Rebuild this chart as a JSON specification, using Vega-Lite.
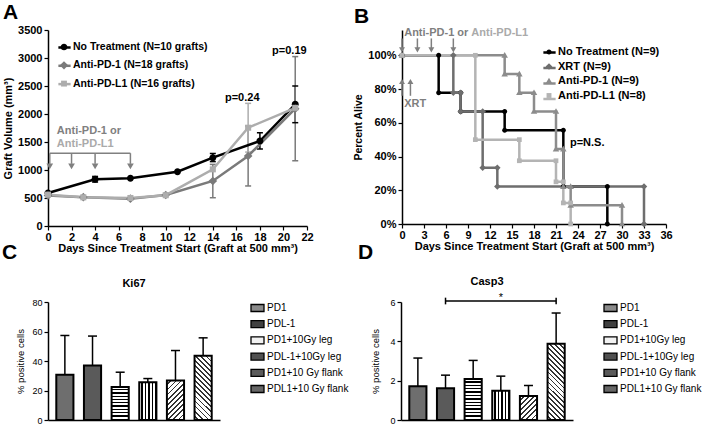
{
"$schema": "https://vega.github.io/schema/vega-lite/v6.json",
"padding": {"left": 2, "top": 2, "right": 2, "bottom": 2},
"spacing": -12,
"config": {
  "font": "Liberation Sans",
  "view": {"stroke": null},
  "axis": {"grid": false, "labelOverlap": false, "domainColor": "#000", "tickColor": "#000", "labelColor": "#000", "titleColor": "#000", "domainWidth": 1.5, "tickWidth": 1.2, "labelFont": "Liberation Sans", "titleFont": "Liberation Sans"},
  "title": {"font": "Liberation Sans", "color": "#000"},
  "legend": {"labelFont": "Liberation Sans", "labelColor": "#000"}
},
"datasets": {
  "volA": [
    {"g":"No Treatment (N=10 grafts)","d":0,"v":590},
    {"g":"No Treatment (N=10 grafts)","d":4,"v":834},
    {"g":"No Treatment (N=10 grafts)","d":7,"v":851},
    {"g":"No Treatment (N=10 grafts)","d":11,"v":970},
    {"g":"No Treatment (N=10 grafts)","d":14,"v":1220},
    {"g":"No Treatment (N=10 grafts)","d":18,"v":1518},
    {"g":"No Treatment (N=10 grafts)","d":21,"v":2173},
    {"g":"Anti-PD-1 (N=18 grafts)","d":0,"v":545},
    {"g":"Anti-PD-1 (N=18 grafts)","d":3,"v":515},
    {"g":"Anti-PD-1 (N=18 grafts)","d":7,"v":488},
    {"g":"Anti-PD-1 (N=18 grafts)","d":10,"v":553},
    {"g":"Anti-PD-1 (N=18 grafts)","d":14,"v":804},
    {"g":"Anti-PD-1 (N=18 grafts)","d":17,"v":1250},
    {"g":"Anti-PD-1 (N=18 grafts)","d":21,"v":2095},
    {"g":"Anti-PD-L1 (N=16 grafts)","d":0,"v":560},
    {"g":"Anti-PD-L1 (N=16 grafts)","d":3,"v":512},
    {"g":"Anti-PD-L1 (N=16 grafts)","d":7,"v":500},
    {"g":"Anti-PD-L1 (N=16 grafts)","d":10,"v":550},
    {"g":"Anti-PD-L1 (N=16 grafts)","d":14,"v":1012},
    {"g":"Anti-PD-L1 (N=16 grafts)","d":17,"v":1755},
    {"g":"Anti-PD-L1 (N=16 grafts)","d":21,"v":2110}
  ],
  "errA": [
    {"g":"No Treatment (N=10 grafts)","d":4,"lo":785,"hi":885},
    {"g":"No Treatment (N=10 grafts)","d":14,"lo":1150,"hi":1295},
    {"g":"No Treatment (N=10 grafts)","d":18,"lo":1375,"hi":1665},
    {"g":"No Treatment (N=10 grafts)","d":21,"lo":1845,"hi":2500},
    {"g":"Anti-PD-1 (N=18 grafts)","d":14,"lo":505,"hi":1100},
    {"g":"Anti-PD-1 (N=18 grafts)","d":17,"lo":715,"hi":1785},
    {"g":"Anti-PD-1 (N=18 grafts)","d":21,"lo":1165,"hi":3025},
    {"g":"Anti-PD-L1 (N=16 grafts)","d":17,"lo":1320,"hi":2190}
  ],
  "survB": [
    {"g":"No Treatment (N=9)","i":1,"d":0,"s":1},
    {"g":"No Treatment (N=9)","i":2,"d":5,"s":1},
    {"g":"No Treatment (N=9)","i":3,"d":5,"s":0.778},
    {"g":"No Treatment (N=9)","i":4,"d":8,"s":0.778},
    {"g":"No Treatment (N=9)","i":5,"d":8,"s":0.667},
    {"g":"No Treatment (N=9)","i":6,"d":14,"s":0.667},
    {"g":"No Treatment (N=9)","i":7,"d":14,"s":0.556},
    {"g":"No Treatment (N=9)","i":8,"d":22,"s":0.556},
    {"g":"No Treatment (N=9)","i":9,"d":22,"s":0.222},
    {"g":"No Treatment (N=9)","i":10,"d":28,"s":0.222},
    {"g":"No Treatment (N=9)","i":11,"d":28,"s":0},
    {"g":"XRT (N=9)","i":12,"d":0,"s":1},
    {"g":"XRT (N=9)","i":13,"d":7,"s":1},
    {"g":"XRT (N=9)","i":14,"d":7,"s":0.778},
    {"g":"XRT (N=9)","i":15,"d":8,"s":0.778},
    {"g":"XRT (N=9)","i":16,"d":8,"s":0.667},
    {"g":"XRT (N=9)","i":17,"d":11,"s":0.667},
    {"g":"XRT (N=9)","i":18,"d":11,"s":0.333},
    {"g":"XRT (N=9)","i":19,"d":13,"s":0.333},
    {"g":"XRT (N=9)","i":20,"d":13,"s":0.222},
    {"g":"XRT (N=9)","i":21,"d":33,"s":0.222},
    {"g":"XRT (N=9)","i":22,"d":33,"s":0},
    {"g":"Anti-PD-1 (N=9)","i":23,"d":0,"s":1},
    {"g":"Anti-PD-1 (N=9)","i":24,"d":14,"s":1},
    {"g":"Anti-PD-1 (N=9)","i":25,"d":14,"s":0.889},
    {"g":"Anti-PD-1 (N=9)","i":26,"d":16,"s":0.889},
    {"g":"Anti-PD-1 (N=9)","i":27,"d":16,"s":0.778},
    {"g":"Anti-PD-1 (N=9)","i":28,"d":18,"s":0.778},
    {"g":"Anti-PD-1 (N=9)","i":29,"d":18,"s":0.667},
    {"g":"Anti-PD-1 (N=9)","i":30,"d":21,"s":0.667},
    {"g":"Anti-PD-1 (N=9)","i":31,"d":21,"s":0.444},
    {"g":"Anti-PD-1 (N=9)","i":32,"d":22,"s":0.444},
    {"g":"Anti-PD-1 (N=9)","i":33,"d":22,"s":0.222},
    {"g":"Anti-PD-1 (N=9)","i":34,"d":23,"s":0.222},
    {"g":"Anti-PD-1 (N=9)","i":35,"d":23,"s":0.111},
    {"g":"Anti-PD-1 (N=9)","i":36,"d":30,"s":0.111},
    {"g":"Anti-PD-1 (N=9)","i":37,"d":30,"s":0},
    {"g":"Anti-PD-L1 (N=8)","i":38,"d":0,"s":1},
    {"g":"Anti-PD-L1 (N=8)","i":39,"d":10,"s":1},
    {"g":"Anti-PD-L1 (N=8)","i":40,"d":10,"s":0.5},
    {"g":"Anti-PD-L1 (N=8)","i":41,"d":16,"s":0.5},
    {"g":"Anti-PD-L1 (N=8)","i":42,"d":16,"s":0.375},
    {"g":"Anti-PD-L1 (N=8)","i":43,"d":21,"s":0.375},
    {"g":"Anti-PD-L1 (N=8)","i":44,"d":21,"s":0.25},
    {"g":"Anti-PD-L1 (N=8)","i":45,"d":22,"s":0.25},
    {"g":"Anti-PD-L1 (N=8)","i":46,"d":22,"s":0.125},
    {"g":"Anti-PD-L1 (N=8)","i":47,"d":23,"s":0.125},
    {"g":"Anti-PD-L1 (N=8)","i":48,"d":23,"s":0}
  ],
  "ki": [
    {"g":"PD1","v":30.6,"hi":57.3},
    {"g":"PDL-1","v":36.9,"hi":56.9},
    {"g":"PD1+10Gy leg","v":22.4,"hi":32.4},
    {"g":"PDL-1+10Gy leg","v":25.6,"hi":28.1},
    {"g":"PD1+10 Gy flank","v":26.7,"hi":47.1},
    {"g":"PDL1+10 Gy flank","v":43.5,"hi":55.7}
  ],
  "casp": [
    {"g":"PD1","v":1.71,"hi":3.15},
    {"g":"PDL-1","v":1.62,"hi":2.28},
    {"g":"PD1+10Gy leg","v":2.08,"hi":3.03},
    {"g":"PDL-1+10Gy leg","v":1.49,"hi":2.23},
    {"g":"PD1+10 Gy flank","v":1.22,"hi":1.76},
    {"g":"PDL1+10 Gy flank","v":3.88,"hi":5.44}
  ],
  "leg": [
    {"g":"PD1"},{"g":"PDL-1"},{"g":"PD1+10Gy leg"},{"g":"PDL-1+10Gy leg"},{"g":"PD1+10 Gy flank"},{"g":"PDL1+10 Gy flank"}
  ]
},
"vconcat": [
 {
  "spacing": 39,
  "resolve": {"scale": {"color": "independent", "shape": "independent"}, "legend": {"color": "independent", "shape": "independent"}},
  "hconcat": [
   {
    "width": 259, "height": 196,
    "title": {"text": "A", "fontSize": 21, "fontWeight": "bold", "anchor": "start", "frame": "group", "dx": -45, "offset": 1},
    "resolve": {"legend": {"color": "independent", "shape": "independent"}},
    "layer": [
     {
      "data": {"name": "errA"},
      "mark": {"type": "rule", "strokeWidth": 1.5},
      "encoding": {
        "x": {"field": "d", "type": "quantitative", "scale": {"domain": [0, 22], "nice": false}, "axis": {"values": [0,2,4,6,8,10,12,14,16,18,20,22], "tickCount": 50, "format": "d", "labelOverlap": false, "title": "Days Since Treatment Start (Graft at 500 mm³)", "labelFontWeight": "bold", "labelFontSize": 11, "titleFontWeight": "bold", "titleFontSize": 11, "titlePadding": 0, "labelPadding": 1, "tickSize": 4, "labelFlush": false}},
        "y": {"field": "lo", "type": "quantitative", "scale": {"domain": [0, 3500], "nice": false}, "axis": {"values": [0,500,1000,1500,2000,2500,3000,3500], "tickCount": 50, "labelOverlap": false, "format": "d", "title": "Graft Volume (mm³)", "labelFontWeight": "bold", "labelFontSize": 11, "titleFontWeight": "bold", "titleFontSize": 11, "titlePadding": 4, "labelPadding": 2, "tickSize": 4}},
        "y2": {"field": "hi"},
        "color": {"field": "g", "type": "nominal", "scale": {"domain": ["No Treatment (N=10 grafts)", "Anti-PD-1 (N=18 grafts)", "Anti-PD-L1 (N=16 grafts)"], "range": ["#000000", "#7a7a7a", "#adadad"]}, "legend": null}
      }
     },
     {
      "data": {"name": "errA"},
      "mark": {"type": "tick", "orient": "horizontal", "size": 6, "thickness": 1.5, "opacity": 1},
      "encoding": {"x": {"field": "d", "type": "quantitative"}, "y": {"field": "lo", "type": "quantitative"}, "color": {"field": "g", "type": "nominal", "legend": null}}
     },
     {
      "data": {"name": "errA"},
      "mark": {"type": "tick", "orient": "horizontal", "size": 6, "thickness": 1.5, "opacity": 1},
      "encoding": {"x": {"field": "d", "type": "quantitative"}, "y": {"field": "hi", "type": "quantitative"}, "color": {"field": "g", "type": "nominal", "legend": null}}
     },
     {
      "data": {"name": "volA"},
      "mark": {"type": "line", "strokeWidth": 2.5},
      "encoding": {"x": {"field": "d", "type": "quantitative"}, "y": {"field": "v", "type": "quantitative"},
        "color": {"field": "g", "type": "nominal", "legend": {"orient": "none", "legendX": 9, "legendY": 10, "title": null, "padding": 0, "labelFontSize": 10.5, "labelFontWeight": "bold", "labelExpr": "''", "symbolType": "stroke", "symbolStrokeWidth": 2.5, "symbolSize": 150, "rowPadding": 5.3, "labelOffset": 2}}}
     },
     {
      "data": {"name": "volA"},
      "mark": {"type": "point", "filled": true, "size": 160, "opacity": 1},
      "encoding": {
        "x": {"field": "d", "type": "quantitative"},
        "y": {"field": "v", "type": "quantitative"},
        "shape": {"field": "g", "type": "nominal", "scale": {"domain": ["No Treatment (N=10 grafts)", "Anti-PD-1 (N=18 grafts)", "Anti-PD-L1 (N=16 grafts)"], "range": ["M0.55,0A0.55,0.55,0,1,1,-0.55,0A0.55,0.55,0,1,1,0.55,0Z", "M0,-0.68L0.68,0L0,0.68L-0.68,0Z", "M-0.48,-0.48H0.48V0.48H-0.48Z"]},
          "legend": {"orient": "none", "legendX": 9, "legendY": 10, "title": null, "padding": 0, "labelFontSize": 10.5, "labelFontWeight": "bold", "symbolSize": 150, "rowPadding": 5.3, "labelOffset": 2}},
        "color": {"field": "g", "type": "nominal", "legend": {"orient": "none", "legendX": 9, "legendY": 10, "title": null, "padding": 0, "labelFontSize": 10.5, "labelFontWeight": "bold", "symbolSize": 150, "rowPadding": 5.3, "labelOffset": 2}}
      }
     },
     {
      "data": {"values": [{"d":0.15,"d2":7,"v":1300,"v2":1300},{"d":0.15,"d2":0.15,"v":1300,"v2":1110},{"d":2,"d2":2,"v":1300,"v2":1110},{"d":4,"d2":4,"v":1300,"v2":1110},{"d":7,"d2":7,"v":1300,"v2":1110}]},
      "mark": {"type": "rule", "color": "#808080", "strokeWidth": 1.5},
      "encoding": {"x": {"field": "d", "type": "quantitative"}, "x2": {"field": "d2"}, "y": {"field": "v", "type": "quantitative"}, "y2": {"field": "v2"}}
     },
     {
      "data": {"values": [{"d":0.15,"v":1065},{"d":2,"v":1065},{"d":4,"v":1065},{"d":7,"v":1065}]},
      "mark": {"type": "point", "shape": "triangle-down", "filled": true, "size": 45, "color": "#808080", "opacity": 1},
      "encoding": {"x": {"field": "d", "type": "quantitative"}, "y": {"field": "v", "type": "quantitative"}}
     },
     {
      "data": {"values": [{"d":0.75,"v":1700,"t":"Anti-PD-1 or"}]},
      "mark": {"type": "text", "align": "left", "baseline": "middle", "fontSize": 11, "fontWeight": "bold", "color": "#808080"},
      "encoding": {"x": {"field": "d", "type": "quantitative"}, "y": {"field": "v", "type": "quantitative"}, "text": {"field": "t"}}
     },
     {
      "data": {"values": [{"d":0.75,"v":1465,"t":"Anti-PD-L1"}]},
      "mark": {"type": "text", "align": "left", "baseline": "middle", "fontSize": 11, "fontWeight": "bold", "color": "#aaaaaa"},
      "encoding": {"x": {"field": "d", "type": "quantitative"}, "y": {"field": "v", "type": "quantitative"}, "text": {"field": "t"}}
     },
     {
      "data": {"values": [{"d":16.5,"v":2290,"t":"p=0.24"},{"d":20.5,"v":3125,"t":"p=0.19"}]},
      "mark": {"type": "text", "align": "center", "baseline": "middle", "fontSize": 11, "fontWeight": "bold", "color": "#000"},
      "encoding": {"x": {"field": "d", "type": "quantitative"}, "y": {"field": "v", "type": "quantitative"}, "text": {"field": "t"}}
     }
    ]
   },
   {
    "width": 264, "height": 194,
    "title": {"text": "B", "fontSize": 21, "fontWeight": "bold", "anchor": "start", "frame": "group", "dx": -48, "offset": 0},
    "resolve": {"legend": {"color": "independent", "shape": "independent"}},
    "layer": [
     {
      "data": {"name": "survB"},
      "mark": {"type": "line", "strokeWidth": 2.5},
      "encoding": {
        "x": {"field": "d", "type": "quantitative", "scale": {"domain": [0, 36], "nice": false}, "axis": {"values": [0,3,6,9,12,15,18,21,24,27,30,33,36], "tickCount": 50, "format": "d", "labelOverlap": false, "title": "Days Since Treatment Start (Graft at 500 mm³)", "labelFontWeight": "bold", "labelFontSize": 11, "titleFontWeight": "bold", "titleFontSize": 11, "titlePadding": 0, "labelPadding": 1, "tickSize": 4, "labelFlush": false}},
        "y": {"field": "s", "type": "quantitative", "scale": {"domain": [0, 1.15], "nice": false}, "axis": {"values": [0,0.2,0.4,0.6,0.8,1], "tickCount": 50, "labelOverlap": false, "format": ".0%", "title": "Percent Alive", "labelFontWeight": "bold", "labelFontSize": 11, "titleFontWeight": "bold", "titleFontSize": 10.5, "titlePadding": 4, "labelPadding": 2, "tickSize": 4}},
        "color": {"field": "g", "type": "nominal", "scale": {"domain": ["No Treatment (N=9)", "XRT (N=9)", "Anti-PD-1 (N=9)", "Anti-PD-L1 (N=8)"], "range": ["#000000", "#6e6e6e", "#8c8c8c", "#b4b4b4"]},
          "legend": {"orient": "none", "legendX": 140, "legendY": 15, "title": null, "padding": 0, "labelFontSize": 11, "labelFontWeight": "bold", "labelExpr": "''", "symbolType": "stroke", "symbolStrokeWidth": 2.5, "symbolSize": 150, "rowPadding": 2.5, "labelOffset": 2}},
        "order": {"field": "i", "type": "quantitative"}
      }
     },
     {
      "data": {"name": "survB"},
      "mark": {"type": "point", "filled": true, "size": 140, "opacity": 1},
      "encoding": {
        "x": {"field": "d", "type": "quantitative"},
        "y": {"field": "s", "type": "quantitative"},
        "shape": {"field": "g", "type": "nominal", "scale": {"domain": ["No Treatment (N=9)", "XRT (N=9)", "Anti-PD-1 (N=9)", "Anti-PD-L1 (N=8)"], "range": ["M0.42,0A0.42,0.42,0,1,1,-0.42,0A0.42,0.42,0,1,1,0.42,0Z", "M0,-0.55L0.55,0L0,0.55L-0.55,0Z", "M0,-0.55L0.55,0.4L-0.55,0.4Z", "M-0.4,-0.4H0.4V0.4H-0.4Z"]},
          "legend": {"orient": "none", "legendX": 140, "legendY": 15, "title": null, "padding": 0, "labelFontSize": 11, "labelFontWeight": "bold", "symbolSize": 150, "rowPadding": 2.5, "labelOffset": 2}},
        "color": {"field": "g", "type": "nominal", "legend": {"orient": "none", "legendX": 140, "legendY": 15, "title": null, "padding": 0, "labelFontSize": 11, "labelFontWeight": "bold", "symbolSize": 150, "rowPadding": 2.5, "labelOffset": 2}}
      }
     },
     {
      "data": {"values": [{"d":0,"s":1.10,"s2":1.03},{"d":2.1,"s":1.10,"s2":1.03},{"d":4,"s":1.10,"s2":1.03},{"d":7,"s":1.10,"s2":1.03},{"d":0,"s":0.76,"s2":0.84},{"d":1.15,"s":0.76,"s2":0.84}]},
      "mark": {"type": "rule", "color": "#7f7f7f", "strokeWidth": 1.5},
      "encoding": {"x": {"field": "d", "type": "quantitative"}, "y": {"field": "s", "type": "quantitative"}, "y2": {"field": "s2"}}
     },
     {
      "data": {"values": [{"d":0,"s":1.032},{"d":2.1,"s":1.032},{"d":4,"s":1.032},{"d":7,"s":1.032}]},
      "mark": {"type": "point", "shape": "triangle-down", "filled": true, "size": 35, "color": "#7f7f7f", "opacity": 1},
      "encoding": {"x": {"field": "d", "type": "quantitative"}, "y": {"field": "s", "type": "quantitative"}}
     },
     {
      "data": {"values": [{"d":0,"s":0.845},{"d":1.15,"s":0.845}]},
      "mark": {"type": "point", "shape": "triangle-up", "filled": true, "size": 35, "color": "#7f7f7f", "opacity": 1},
      "encoding": {"x": {"field": "d", "type": "quantitative"}, "y": {"field": "s", "type": "quantitative"}}
     },
     {
      "data": {"values": [{"d":0.3,"s":1.132,"t":"Anti-PD-1 or"},{"d":0.3,"s":0.711,"t":"XRT"}]},
      "mark": {"type": "text", "align": "left", "baseline": "middle", "fontSize": 11, "fontWeight": "bold", "color": "#7f7f7f"},
      "encoding": {"x": {"field": "d", "type": "quantitative"}, "y": {"field": "s", "type": "quantitative"}, "text": {"field": "t"}}
     },
     {
      "data": {"values": [{"d":9.45,"s":1.132,"t":"Anti-PD-L1"}]},
      "mark": {"type": "text", "align": "left", "baseline": "middle", "fontSize": 11, "fontWeight": "bold", "color": "#aaaaaa"},
      "encoding": {"x": {"field": "d", "type": "quantitative"}, "y": {"field": "s", "type": "quantitative"}, "text": {"field": "t"}}
     },
     {
      "data": {"values": [{"d":22.9,"s":0.482,"t":"p=N.S."}]},
      "mark": {"type": "text", "align": "left", "baseline": "middle", "fontSize": 11, "fontWeight": "bold", "color": "#000"},
      "encoding": {"x": {"field": "d", "type": "quantitative"}, "y": {"field": "s", "type": "quantitative"}, "text": {"field": "t"}}
     }
    ]
   }
  ]
 },
 {
  "bounds": "flush",
  "spacing": 31,
  "hconcat": [
   {
    "width": 172, "height": 118,
    "title": {"text": "Ki67", "fontSize": 11, "fontWeight": "bold", "offset": 9},
    "data": {"name": "ki"},
    "layer": [
     {
      "mark": {"type": "rule", "strokeWidth": 1.5, "color": "#000"},
      "encoding": {
        "x": {"field": "g", "type": "nominal", "sort": null, "scale": {"domain": ["PD1","PDL-1","PD1+10Gy leg","PDL-1+10Gy leg","PD1+10 Gy flank","PDL1+10 Gy flank"], "paddingInner": 0.38, "paddingOuter": 0.3}, "axis": {"labels": false, "ticks": false, "title": null, "domainWidth": 1.5}},
        "y": {"field": "v", "type": "quantitative", "scale": {"domain": [0, 80], "nice": false}, "axis": {"values": [0,20,40,60,80], "tickCount": 50, "format": "d", "labelOverlap": false, "title": "% positive cells", "titleFontSize": 9.5, "titleFontWeight": "normal", "labelFontSize": 9, "tickSize": 4, "labelPadding": 2, "titlePadding": 6}},
        "y2": {"field": "hi"}
      }
     },
     {
      "mark": {"type": "tick", "orient": "horizontal", "size": 9, "thickness": 1.5, "color": "#000", "opacity": 1},
      "encoding": {"x": {"field": "g", "type": "nominal", "sort": null}, "y": {"field": "hi", "type": "quantitative"}}
     },
     {
      "mark": {"type": "bar", "stroke": "#000", "strokeWidth": 2},
      "encoding": {
        "x": {"field": "g", "type": "nominal", "sort": null},
        "y": {"field": "v", "type": "quantitative"},
        "fill": {"condition": [
          {"test": "datum.g === 'PDL-1'", "value": "#5a5a5a"},
          {"test": "datum.g === 'PD1+10Gy leg'", "value": {"gradient": "linear", "x1": 0, "y1": 0, "x2": 0, "y2": 1, "stops": [
            {"offset":0,"color":"#fff"},{"offset":0.06,"color":"#fff"},{"offset":0.06,"color":"#000"},{"offset":0.1,"color":"#000"},
            {"offset":0.1,"color":"#fff"},{"offset":0.16,"color":"#fff"},{"offset":0.16,"color":"#000"},{"offset":0.2,"color":"#000"},
            {"offset":0.2,"color":"#fff"},{"offset":0.26,"color":"#fff"},{"offset":0.26,"color":"#000"},{"offset":0.3,"color":"#000"},
            {"offset":0.3,"color":"#fff"},{"offset":0.36,"color":"#fff"},{"offset":0.36,"color":"#000"},{"offset":0.4,"color":"#000"},
            {"offset":0.4,"color":"#fff"},{"offset":0.46,"color":"#fff"},{"offset":0.46,"color":"#000"},{"offset":0.5,"color":"#000"},
            {"offset":0.5,"color":"#fff"},{"offset":0.56,"color":"#fff"},{"offset":0.56,"color":"#000"},{"offset":0.6,"color":"#000"},
            {"offset":0.6,"color":"#fff"},{"offset":0.66,"color":"#fff"},{"offset":0.66,"color":"#000"},{"offset":0.7,"color":"#000"},
            {"offset":0.7,"color":"#fff"},{"offset":0.76,"color":"#fff"},{"offset":0.76,"color":"#000"},{"offset":0.8,"color":"#000"},
            {"offset":0.8,"color":"#fff"},{"offset":0.86,"color":"#fff"},{"offset":0.86,"color":"#000"},{"offset":0.9,"color":"#000"},
            {"offset":0.9,"color":"#fff"},{"offset":0.96,"color":"#fff"},{"offset":0.96,"color":"#000"},{"offset":1,"color":"#000"}]}},
          {"test": "datum.g === 'PDL-1+10Gy leg'", "value": {"gradient": "linear", "x1": 0, "y1": 0, "x2": 1, "y2": 0, "stops": [
            {"offset":0,"color":"#fff"},{"offset":0.13,"color":"#fff"},{"offset":0.13,"color":"#000"},{"offset":0.2,"color":"#000"},
            {"offset":0.2,"color":"#fff"},{"offset":0.33,"color":"#fff"},{"offset":0.33,"color":"#000"},{"offset":0.4,"color":"#000"},
            {"offset":0.4,"color":"#fff"},{"offset":0.53,"color":"#fff"},{"offset":0.53,"color":"#000"},{"offset":0.6,"color":"#000"},
            {"offset":0.6,"color":"#fff"},{"offset":0.73,"color":"#fff"},{"offset":0.73,"color":"#000"},{"offset":0.8,"color":"#000"},
            {"offset":0.8,"color":"#fff"},{"offset":0.93,"color":"#fff"},{"offset":0.93,"color":"#000"},{"offset":1,"color":"#000"}]}},
          {"test": "datum.g === 'PD1+10 Gy flank'", "value": {"gradient": "linear", "x1": 0, "y1": 0, "x2": 0.524, "y2": 1.207, "stops": [
            {"offset":0,"color":"#fff"},{"offset":0.0591,"color":"#fff"},{"offset":0.0591,"color":"#333"},{"offset":0.0909,"color":"#333"},
            {"offset":0.0909,"color":"#fff"},{"offset":0.15,"color":"#fff"},{"offset":0.15,"color":"#333"},{"offset":0.1818,"color":"#333"},
            {"offset":0.1818,"color":"#fff"},{"offset":0.2409,"color":"#fff"},{"offset":0.2409,"color":"#333"},{"offset":0.2727,"color":"#333"},
            {"offset":0.2727,"color":"#fff"},{"offset":0.3318,"color":"#fff"},{"offset":0.3318,"color":"#333"},{"offset":0.3636,"color":"#333"},
            {"offset":0.3636,"color":"#fff"},{"offset":0.4227,"color":"#fff"},{"offset":0.4227,"color":"#333"},{"offset":0.4545,"color":"#333"},
            {"offset":0.4545,"color":"#fff"},{"offset":0.5136,"color":"#fff"},{"offset":0.5136,"color":"#333"},{"offset":0.5455,"color":"#333"},
            {"offset":0.5455,"color":"#fff"},{"offset":0.6045,"color":"#fff"},{"offset":0.6045,"color":"#333"},{"offset":0.6364,"color":"#333"},
            {"offset":0.6364,"color":"#fff"},{"offset":0.6955,"color":"#fff"},{"offset":0.6955,"color":"#333"},{"offset":0.7273,"color":"#333"},
            {"offset":0.7273,"color":"#fff"},{"offset":0.7864,"color":"#fff"},{"offset":0.7864,"color":"#333"},{"offset":0.8182,"color":"#333"},
            {"offset":0.8182,"color":"#fff"},{"offset":0.8773,"color":"#fff"},{"offset":0.8773,"color":"#333"},{"offset":0.9091,"color":"#333"},
            {"offset":0.9091,"color":"#fff"},{"offset":0.9682,"color":"#fff"},{"offset":0.9682,"color":"#333"},{"offset":1,"color":"#333"}]}},
          {"test": "datum.g === 'PDL1+10 Gy flank'", "value": {"gradient": "linear", "x1": 0, "y1": 1, "x2": 0.315, "y2": -0.183, "stops": [
            {"offset":0,"color":"#fff"},{"offset":0.0406,"color":"#fff"},{"offset":0.0406,"color":"#333"},{"offset":0.0625,"color":"#333"},
            {"offset":0.0625,"color":"#fff"},{"offset":0.1031,"color":"#fff"},{"offset":0.1031,"color":"#333"},{"offset":0.125,"color":"#333"},
            {"offset":0.125,"color":"#fff"},{"offset":0.1656,"color":"#fff"},{"offset":0.1656,"color":"#333"},{"offset":0.1875,"color":"#333"},
            {"offset":0.1875,"color":"#fff"},{"offset":0.2281,"color":"#fff"},{"offset":0.2281,"color":"#333"},{"offset":0.25,"color":"#333"},
            {"offset":0.25,"color":"#fff"},{"offset":0.2906,"color":"#fff"},{"offset":0.2906,"color":"#333"},{"offset":0.3125,"color":"#333"},
            {"offset":0.3125,"color":"#fff"},{"offset":0.3531,"color":"#fff"},{"offset":0.3531,"color":"#333"},{"offset":0.375,"color":"#333"},
            {"offset":0.375,"color":"#fff"},{"offset":0.4156,"color":"#fff"},{"offset":0.4156,"color":"#333"},{"offset":0.4375,"color":"#333"},
            {"offset":0.4375,"color":"#fff"},{"offset":0.4781,"color":"#fff"},{"offset":0.4781,"color":"#333"},{"offset":0.5,"color":"#333"},
            {"offset":0.5,"color":"#fff"},{"offset":0.5406,"color":"#fff"},{"offset":0.5406,"color":"#333"},{"offset":0.5625,"color":"#333"},
            {"offset":0.5625,"color":"#fff"},{"offset":0.6031,"color":"#fff"},{"offset":0.6031,"color":"#333"},{"offset":0.625,"color":"#333"},
            {"offset":0.625,"color":"#fff"},{"offset":0.6656,"color":"#fff"},{"offset":0.6656,"color":"#333"},{"offset":0.6875,"color":"#333"},
            {"offset":0.6875,"color":"#fff"},{"offset":0.7281,"color":"#fff"},{"offset":0.7281,"color":"#333"},{"offset":0.75,"color":"#333"},
            {"offset":0.75,"color":"#fff"},{"offset":0.7906,"color":"#fff"},{"offset":0.7906,"color":"#333"},{"offset":0.8125,"color":"#333"},
            {"offset":0.8125,"color":"#fff"},{"offset":0.8531,"color":"#fff"},{"offset":0.8531,"color":"#333"},{"offset":0.875,"color":"#333"},
            {"offset":0.875,"color":"#fff"},{"offset":0.9156,"color":"#fff"},{"offset":0.9156,"color":"#333"},{"offset":0.9375,"color":"#333"},
            {"offset":0.9375,"color":"#fff"},{"offset":0.9781,"color":"#fff"},{"offset":0.9781,"color":"#333"},{"offset":1,"color":"#333"}]}}
        ], "value": "#6e6e6e"}
      }
     }
    ]
   },
   {
    "width": 119, "height": 93,
    "title": {"text": "C", "fontSize": 21, "fontWeight": "bold", "anchor": "start", "frame": "group", "dx": -249, "offset": 39.5},
    "data": {"name": "leg"},
    "encoding": {"y": {"field": "g", "type": "nominal", "sort": null, "scale": {"paddingInner": 0.568, "paddingOuter": 0.154}, "axis": null}},
    "layer": [
     {
      "mark": {"type": "bar", "stroke": "#000", "strokeWidth": 1.3},
      "encoding": {
        "x": {"datum": 0, "type": "quantitative", "scale": {"domain": [0, 119], "nice": false, "zero": false}, "axis": null},
        "x2": {"datum": 13},
        "fill": {"condition": [
          {"test": "datum.g === 'PD1'", "value": "#8a8a8a"},
          {"test": "datum.g === 'PDL-1'", "value": "#404040"},
          {"test": "datum.g === 'PD1+10Gy leg'", "value": "#f2f2f2"},
          {"test": "datum.g === 'PDL-1+10Gy leg'", "value": "#505050"},
          {"test": "datum.g === 'PD1+10 Gy flank'", "value": "#5a5a5a"}
        ], "value": "#666666"}
      }
     },
     {
      "mark": {"type": "text", "align": "left", "baseline": "middle", "fontSize": 10, "color": "#000"},
      "encoding": {"x": {"datum": 16, "type": "quantitative"}, "text": {"field": "g"}}
     }
    ]
   },
   {
    "width": 172, "height": 118,
    "title": {"text": "Casp3", "fontSize": 11, "fontWeight": "bold", "offset": 5},
    "data": {"name": "casp"},
    "layer": [
     {
      "mark": {"type": "rule", "strokeWidth": 1.5, "color": "#000"},
      "encoding": {
        "x": {"field": "g", "type": "nominal", "sort": null, "scale": {"domain": ["PD1","PDL-1","PD1+10Gy leg","PDL-1+10Gy leg","PD1+10 Gy flank","PDL1+10 Gy flank"], "paddingInner": 0.38, "paddingOuter": 0.3}, "axis": {"labels": false, "ticks": false, "title": null, "domainWidth": 1.5}},
        "y": {"field": "v", "type": "quantitative", "scale": {"domain": [0, 6], "nice": false}, "axis": {"values": [0,2,4,6], "tickCount": 50, "format": "d", "labelOverlap": false, "title": "% positive cells", "titleFontSize": 9.5, "titleFontWeight": "normal", "labelFontSize": 9, "tickSize": 4, "labelPadding": 2, "titlePadding": 9}},
        "y2": {"field": "hi"}
      }
     },
     {
      "mark": {"type": "tick", "orient": "horizontal", "size": 9, "thickness": 1.5, "color": "#000", "opacity": 1},
      "encoding": {"x": {"field": "g", "type": "nominal", "sort": null}, "y": {"field": "hi", "type": "quantitative"}}
     },
     {
      "mark": {"type": "bar", "stroke": "#000", "strokeWidth": 2},
      "encoding": {
        "x": {"field": "g", "type": "nominal", "sort": null},
        "y": {"field": "v", "type": "quantitative"},
        "fill": {"condition": [
          {"test": "datum.g === 'PDL-1'", "value": "#5a5a5a"},
          {"test": "datum.g === 'PD1+10Gy leg'", "value": {"gradient": "linear", "x1": 0, "y1": 0, "x2": 0, "y2": 1, "stops": [
            {"offset":0,"color":"#fff"},{"offset":0.05,"color":"#fff"},{"offset":0.05,"color":"#000"},{"offset":0.0833,"color":"#000"},
            {"offset":0.0833,"color":"#fff"},{"offset":0.1333,"color":"#fff"},{"offset":0.1333,"color":"#000"},{"offset":0.1667,"color":"#000"},
            {"offset":0.1667,"color":"#fff"},{"offset":0.2167,"color":"#fff"},{"offset":0.2167,"color":"#000"},{"offset":0.25,"color":"#000"},
            {"offset":0.25,"color":"#fff"},{"offset":0.3,"color":"#fff"},{"offset":0.3,"color":"#000"},{"offset":0.3333,"color":"#000"},
            {"offset":0.3333,"color":"#fff"},{"offset":0.3833,"color":"#fff"},{"offset":0.3833,"color":"#000"},{"offset":0.4167,"color":"#000"},
            {"offset":0.4167,"color":"#fff"},{"offset":0.4667,"color":"#fff"},{"offset":0.4667,"color":"#000"},{"offset":0.5,"color":"#000"},
            {"offset":0.5,"color":"#fff"},{"offset":0.55,"color":"#fff"},{"offset":0.55,"color":"#000"},{"offset":0.5833,"color":"#000"},
            {"offset":0.5833,"color":"#fff"},{"offset":0.6333,"color":"#fff"},{"offset":0.6333,"color":"#000"},{"offset":0.6667,"color":"#000"},
            {"offset":0.6667,"color":"#fff"},{"offset":0.7167,"color":"#fff"},{"offset":0.7167,"color":"#000"},{"offset":0.75,"color":"#000"},
            {"offset":0.75,"color":"#fff"},{"offset":0.8,"color":"#fff"},{"offset":0.8,"color":"#000"},{"offset":0.8333,"color":"#000"},
            {"offset":0.8333,"color":"#fff"},{"offset":0.8833,"color":"#fff"},{"offset":0.8833,"color":"#000"},{"offset":0.9167,"color":"#000"},
            {"offset":0.9167,"color":"#fff"},{"offset":0.9667,"color":"#fff"},{"offset":0.9667,"color":"#000"},{"offset":1,"color":"#000"}]}},
          {"test": "datum.g === 'PDL-1+10Gy leg'", "value": {"gradient": "linear", "x1": 0, "y1": 0, "x2": 1, "y2": 0, "stops": [
            {"offset":0,"color":"#fff"},{"offset":0.13,"color":"#fff"},{"offset":0.13,"color":"#000"},{"offset":0.2,"color":"#000"},
            {"offset":0.2,"color":"#fff"},{"offset":0.33,"color":"#fff"},{"offset":0.33,"color":"#000"},{"offset":0.4,"color":"#000"},
            {"offset":0.4,"color":"#fff"},{"offset":0.53,"color":"#fff"},{"offset":0.53,"color":"#000"},{"offset":0.6,"color":"#000"},
            {"offset":0.6,"color":"#fff"},{"offset":0.73,"color":"#fff"},{"offset":0.73,"color":"#000"},{"offset":0.8,"color":"#000"},
            {"offset":0.8,"color":"#fff"},{"offset":0.93,"color":"#fff"},{"offset":0.93,"color":"#000"},{"offset":1,"color":"#000"}]}},
          {"test": "datum.g === 'PD1+10 Gy flank'", "value": {"gradient": "linear", "x1": 0, "y1": 0, "x2": 0.809, "y2": 1.136, "stops": [
            {"offset":0,"color":"#fff"},{"offset":0.0813,"color":"#fff"},{"offset":0.0813,"color":"#333"},{"offset":0.125,"color":"#333"},
            {"offset":0.125,"color":"#fff"},{"offset":0.2063,"color":"#fff"},{"offset":0.2063,"color":"#333"},{"offset":0.25,"color":"#333"},
            {"offset":0.25,"color":"#fff"},{"offset":0.3313,"color":"#fff"},{"offset":0.3313,"color":"#333"},{"offset":0.375,"color":"#333"},
            {"offset":0.375,"color":"#fff"},{"offset":0.4563,"color":"#fff"},{"offset":0.4563,"color":"#333"},{"offset":0.5,"color":"#333"},
            {"offset":0.5,"color":"#fff"},{"offset":0.5813,"color":"#fff"},{"offset":0.5813,"color":"#333"},{"offset":0.625,"color":"#333"},
            {"offset":0.625,"color":"#fff"},{"offset":0.7063,"color":"#fff"},{"offset":0.7063,"color":"#333"},{"offset":0.75,"color":"#333"},
            {"offset":0.75,"color":"#fff"},{"offset":0.8313,"color":"#fff"},{"offset":0.8313,"color":"#333"},{"offset":0.875,"color":"#333"},
            {"offset":0.875,"color":"#fff"},{"offset":0.9563,"color":"#fff"},{"offset":0.9563,"color":"#333"},{"offset":1,"color":"#333"}]}},
          {"test": "datum.g === 'PDL1+10 Gy flank'", "value": {"gradient": "linear", "x1": 0, "y1": 1, "x2": 0.261, "y2": -0.166, "stops": [
            {"offset":0,"color":"#fff"},{"offset":0.0342,"color":"#fff"},{"offset":0.0342,"color":"#333"},{"offset":0.0526,"color":"#333"},
            {"offset":0.0526,"color":"#fff"},{"offset":0.0868,"color":"#fff"},{"offset":0.0868,"color":"#333"},{"offset":0.1053,"color":"#333"},
            {"offset":0.1053,"color":"#fff"},{"offset":0.1395,"color":"#fff"},{"offset":0.1395,"color":"#333"},{"offset":0.1579,"color":"#333"},
            {"offset":0.1579,"color":"#fff"},{"offset":0.1921,"color":"#fff"},{"offset":0.1921,"color":"#333"},{"offset":0.2105,"color":"#333"},
            {"offset":0.2105,"color":"#fff"},{"offset":0.2447,"color":"#fff"},{"offset":0.2447,"color":"#333"},{"offset":0.2632,"color":"#333"},
            {"offset":0.2632,"color":"#fff"},{"offset":0.2974,"color":"#fff"},{"offset":0.2974,"color":"#333"},{"offset":0.3158,"color":"#333"},
            {"offset":0.3158,"color":"#fff"},{"offset":0.35,"color":"#fff"},{"offset":0.35,"color":"#333"},{"offset":0.3684,"color":"#333"},
            {"offset":0.3684,"color":"#fff"},{"offset":0.4026,"color":"#fff"},{"offset":0.4026,"color":"#333"},{"offset":0.4211,"color":"#333"},
            {"offset":0.4211,"color":"#fff"},{"offset":0.4553,"color":"#fff"},{"offset":0.4553,"color":"#333"},{"offset":0.4737,"color":"#333"},
            {"offset":0.4737,"color":"#fff"},{"offset":0.5079,"color":"#fff"},{"offset":0.5079,"color":"#333"},{"offset":0.5263,"color":"#333"},
            {"offset":0.5263,"color":"#fff"},{"offset":0.5605,"color":"#fff"},{"offset":0.5605,"color":"#333"},{"offset":0.5789,"color":"#333"},
            {"offset":0.5789,"color":"#fff"},{"offset":0.6131,"color":"#fff"},{"offset":0.6131,"color":"#333"},{"offset":0.6316,"color":"#333"},
            {"offset":0.6316,"color":"#fff"},{"offset":0.6658,"color":"#fff"},{"offset":0.6658,"color":"#333"},{"offset":0.6842,"color":"#333"},
            {"offset":0.6842,"color":"#fff"},{"offset":0.7184,"color":"#fff"},{"offset":0.7184,"color":"#333"},{"offset":0.7368,"color":"#333"},
            {"offset":0.7368,"color":"#fff"},{"offset":0.771,"color":"#fff"},{"offset":0.771,"color":"#333"},{"offset":0.7895,"color":"#333"},
            {"offset":0.7895,"color":"#fff"},{"offset":0.8237,"color":"#fff"},{"offset":0.8237,"color":"#333"},{"offset":0.8421,"color":"#333"},
            {"offset":0.8421,"color":"#fff"},{"offset":0.8763,"color":"#fff"},{"offset":0.8763,"color":"#333"},{"offset":0.8947,"color":"#333"},
            {"offset":0.8947,"color":"#fff"},{"offset":0.9289,"color":"#fff"},{"offset":0.9289,"color":"#333"},{"offset":0.9474,"color":"#333"},
            {"offset":0.9474,"color":"#fff"},{"offset":0.9816,"color":"#fff"},{"offset":0.9816,"color":"#333"},{"offset":1,"color":"#333"}]}}
        ], "value": "#6e6e6e"}
      }
     },
     {
      "data": {"values": [{"g":"PDL-1","v":6.05},{"g":"PDL1+10 Gy flank","v":6.05}]},
      "mark": {"type": "line", "color": "#000", "strokeWidth": 1.5},
      "encoding": {"x": {"field": "g", "type": "nominal", "sort": null}, "y": {"field": "v", "type": "quantitative"}}
     },
     {
      "data": {"values": [{"g":"PDL-1","v":5.88,"v2":6.22},{"g":"PDL1+10 Gy flank","v":5.88,"v2":6.22}]},
      "mark": {"type": "rule", "color": "#000", "strokeWidth": 1.5},
      "encoding": {"x": {"field": "g", "type": "nominal", "sort": null}, "y": {"field": "v", "type": "quantitative"}, "y2": {"field": "v2"}}
     },
     {
      "data": {"values": [{"g":"PDL-1+10Gy leg","v":6.22,"t":"*"}]},
      "mark": {"type": "text", "fontSize": 11, "baseline": "middle", "align": "center", "color": "#000"},
      "encoding": {"x": {"field": "g", "type": "nominal", "sort": null}, "y": {"field": "v", "type": "quantitative"}, "text": {"field": "t"}}
     }
    ]
   },
   {
    "width": 100, "height": 93,
    "title": {"text": "D", "fontSize": 21, "fontWeight": "bold", "anchor": "start", "frame": "group", "dx": -246, "offset": 39.5},
    "data": {"name": "leg"},
    "encoding": {"y": {"field": "g", "type": "nominal", "sort": null, "scale": {"paddingInner": 0.568, "paddingOuter": 0.154}, "axis": null}},
    "layer": [
     {
      "mark": {"type": "bar", "stroke": "#000", "strokeWidth": 1.3},
      "encoding": {
        "x": {"datum": 0, "type": "quantitative", "scale": {"domain": [0, 100], "nice": false, "zero": false}, "axis": null},
        "x2": {"datum": 13},
        "fill": {"condition": [
          {"test": "datum.g === 'PD1'", "value": "#8a8a8a"},
          {"test": "datum.g === 'PDL-1'", "value": "#404040"},
          {"test": "datum.g === 'PD1+10Gy leg'", "value": "#f2f2f2"},
          {"test": "datum.g === 'PDL-1+10Gy leg'", "value": "#505050"},
          {"test": "datum.g === 'PD1+10 Gy flank'", "value": "#5a5a5a"}
        ], "value": "#666666"}
      }
     },
     {
      "mark": {"type": "text", "align": "left", "baseline": "middle", "fontSize": 10, "color": "#000"},
      "encoding": {"x": {"datum": 16, "type": "quantitative"}, "text": {"field": "g"}}
     }
    ]
   }
  ]
 }
]
}
